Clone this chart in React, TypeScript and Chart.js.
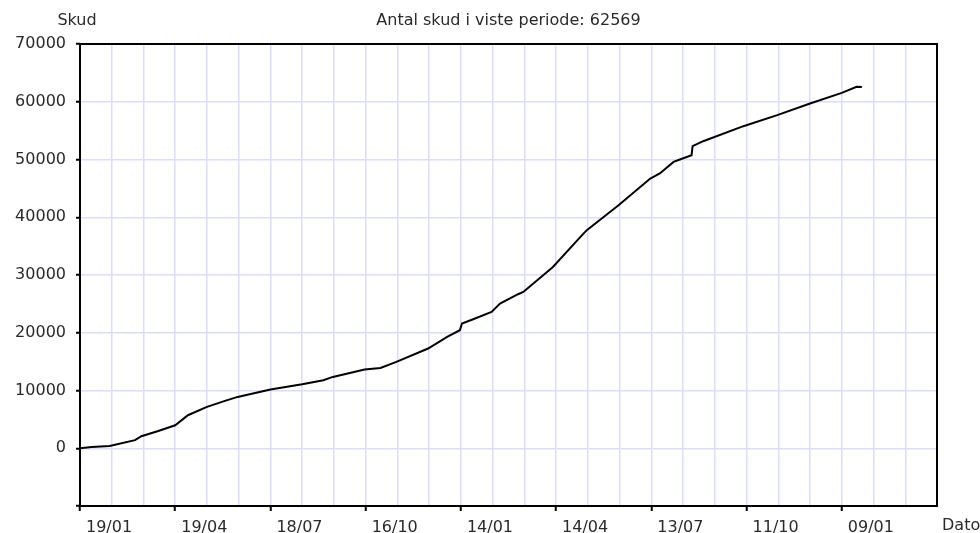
import React, { useEffect, useRef } from "react";
import { Chart, registerables } from "chart.js";

Chart.register(...registerables);

// Days since 19/01 (first tick) and cumulative shot count
const days = [0, 11, 28, 52, 58, 74, 90, 102, 120, 137, 149, 180, 210, 230, 239, 269, 284, 299, 329, 347, 359, 361, 371, 389, 397, 414, 419, 447, 473, 479, 509, 539, 548, 561, 567, 578, 579, 589, 627, 659, 690, 720, 734, 739];
const shots = [0, 230, 400, 1400, 2080, 3000, 3980, 5720, 7160, 8200, 8890, 10160, 11080, 11780, 12350, 13630, 13910, 14950, 17270, 19280, 20440, 21600, 22290, 23610, 25060, 26670, 27070, 31400, 36600, 37760, 42090, 46710, 47580, 49590, 50000, 50750, 52300, 53170, 55770, 57680, 59700, 61540, 62580, 62569];

const xTickLabels = ["19/01", "19/04", "18/07", "16/10", "14/01", "14/04", "13/07", "11/10", "09/01"];
const titleText = "Antal skud i viste periode: 62569";
const yAxisTitle = "Skud";
const xAxisTitle = "Dato";

const FONT = "'DejaVu Sans', Verdana, sans-serif";
const TEXT_COLOR = "#2a2a2a";
const GRID_COLOR = "#dcdcff";

export default function App() {
  const ref = useRef<HTMLCanvasElement | null>(null);

  useEffect(() => {
    if (!ref.current) return;
    const data = days.map((d, i) => ({ x: d, y: shots[i] }));

    const decor = {
      id: "decor",
      afterDraw(chart: any) {
        const { ctx, chartArea } = chart;
        ctx.save();
        ctx.strokeStyle = "#000";
        ctx.lineWidth = 2;
        ctx.strokeRect(chartArea.left, chartArea.top, chartArea.right - chartArea.left, chartArea.bottom - chartArea.top);
        ctx.fillStyle = TEXT_COLOR;
        ctx.font = `16px ${FONT}`;
        ctx.textBaseline = "middle";
        ctx.textAlign = "center";
        ctx.fillText(titleText, (chartArea.left + chartArea.right) / 2, 21);
        ctx.fillText(yAxisTitle, 77, 21);
        ctx.textAlign = "left";
        ctx.fillText(xAxisTitle, chartArea.right + 5, 526);
        ctx.restore();
      },
    };

    const chart = new Chart(ref.current, {
      type: "line",
      data: {
        datasets: [
          {
            data,
            borderColor: "#000",
            borderWidth: 2,
            pointRadius: 0,
            tension: 0,
            fill: false,
          },
        ],
      },
      options: {
        animation: false,
        responsive: true,
        maintainAspectRatio: false,
        layout: { padding: { top: 44, right: 43, left: 0, bottom: 0 } },
        plugins: { legend: { display: false }, title: { display: false }, tooltip: { enabled: false } },
        scales: {
          x: {
            type: "linear",
            min: 0,
            max: 810,
            afterFit: (s: any) => {
              s.height = 27;
            },
            border: { display: false },
            grid: {
              color: GRID_COLOR,
              lineWidth: 1.5,
              tickLength: 5,
              tickColor: (c: any) => (c.tick && c.tick.value % 90 === 0 && c.tick.value < 810 ? "#000" : "rgba(0,0,0,0)"),
              tickWidth: 2,
            },
            ticks: {
              stepSize: 30,
              autoSkip: false,
              maxRotation: 0,
              align: "start",
              labelOffset: 6,
              padding: 7,
              color: TEXT_COLOR,
              font: { family: FONT, size: 16 },
              callback: (v: any) => {
                const n = Number(v);
                return n % 90 === 0 && n / 90 < xTickLabels.length ? xTickLabels[n / 90] : "";
              },
            },
          },
          y: {
            min: -10000,
            max: 70000,
            afterFit: (s: any) => {
              s.width = 80;
            },
            border: { display: false },
            grid: {
              color: GRID_COLOR,
              lineWidth: 1.5,
              tickLength: 4,
              tickColor: "#000",
              tickWidth: 2,
            },
            ticks: {
              stepSize: 10000,
              autoSkip: false,
              padding: 10,
              color: TEXT_COLOR,
              font: { family: FONT, size: 16 },
              callback: (v: any) => (Number(v) >= 0 ? String(v) : ""),
            },
          },
        },
      },
      plugins: [decor],
    });
    return () => chart.destroy();
  }, []);

  return (
    <div style={{ position: "fixed", left: 0, top: 0, width: 980, height: 533, background: "#fff" }}>
      <canvas ref={ref} />
    </div>
  );
}
